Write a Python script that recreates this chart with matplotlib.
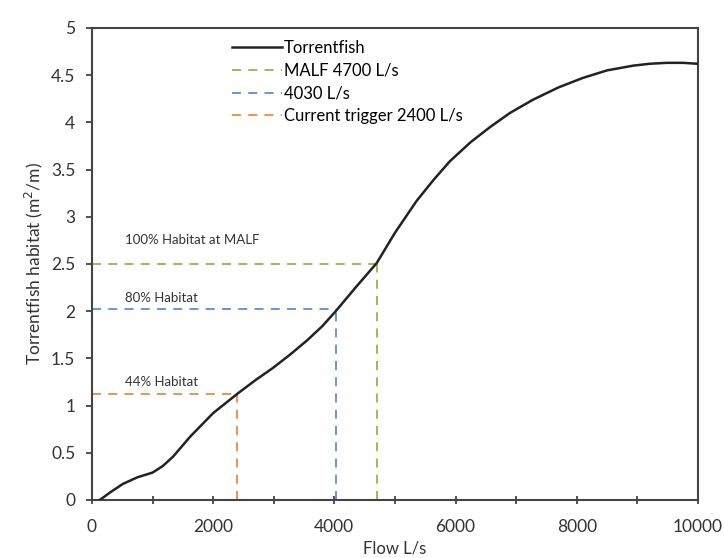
import matplotlib.pyplot as plt
import numpy as np

plt.rcParams['font.family'] = ['Lato', 'DejaVu Sans']

# Data
flow = [130, 300, 510, 750, 1000, 1170, 1340, 1620, 2000, 2410, 2700, 2990,
        3270, 3550, 3800, 4010, 4350, 4700, 5000, 5360, 5650, 5910, 6250,
        6570, 6900, 7280, 7700, 8100, 8500, 8930, 9200, 9490, 9750, 10000]
habitat = [0.0, 0.08, 0.17, 0.24, 0.29, 0.36, 0.46, 0.67, 0.92, 1.13, 1.27, 1.40,
           1.54, 1.69, 1.84, 1.99, 2.25, 2.51, 2.83, 3.17, 3.40, 3.59, 3.79,
           3.95, 4.10, 4.24, 4.37, 4.47, 4.55, 4.60, 4.62, 4.63, 4.63, 4.62]

ref_flow = [4700, 4030, 2400]
ref_hab = [2.5, 2.02, 1.12]
ref_names = ['MALF 4700 L/s', '4030 L/s', 'Current trigger 2400 L/s']
ref_colors = ['#93b552', '#5b8fd0', '#ed8a3c']
ref_text = ['100% Habitat at MALF', '80% Habitat', '44% Habitat']
ref_text_y = [2.75, 2.14, 1.25]

fig = plt.figure(figsize=(7.24, 5.58), dpi=100)
ax = fig.add_axes([0.127, 0.104, 0.837, 0.846])

ax.plot(flow, habitat, color='#222222', lw=1.8, label='Torrentfish', zorder=3)

for fx, hy, name, c in zip(ref_flow, ref_hab, ref_names, ref_colors):
    ax.plot([0, fx], [hy, hy], color=c, ls=(0, (5, 4)), lw=1.3, label=name)
    ax.plot([fx, fx], [0, hy], color=c, ls=(0, (5, 4)), lw=1.3)

for t, ty in zip(ref_text, ref_text_y):
    ax.text(550, ty, t, fontsize=9.5, color='#333333', va='center')

ax.set_xlim(0, 10000)
ax.set_ylim(0, 5)
ax.set_xticks(np.arange(0, 10001, 2000))
ax.set_xticks(np.arange(0, 10001, 1000), minor=True)
ax.set_yticks(np.arange(0, 5.01, 0.5))
ax.set_yticklabels(['0', '0.5', '1', '1.5', '2', '2.5', '3', '3.5', '4', '4.5', '5'])
ax.tick_params(axis='x', which='both', direction='inout', length=6, width=1.2,
               labelsize=12.5, colors='#333333', pad=11)
ax.tick_params(axis='y', direction='out', length=4, width=1.2, labelsize=12.5,
               colors='#333333', pad=8)
for s in ax.spines.values():
    s.set_color('#444444')
    s.set_linewidth(1.5)

ax.set_xlabel('Flow L/s', fontsize=12, color='#333333', labelpad=4)
ax.set_ylabel('Torrentfish habitat (m$^2$/m)', fontsize=12.5, color='#333333', labelpad=4)

ax.legend(loc='upper left', bbox_to_anchor=(0.215, 0.995), frameon=False, fontsize=12,
          handlelength=3.0, handletextpad=0.1, labelspacing=0.4, borderaxespad=0.2)

fig.savefig('out.png', dpi=100)
